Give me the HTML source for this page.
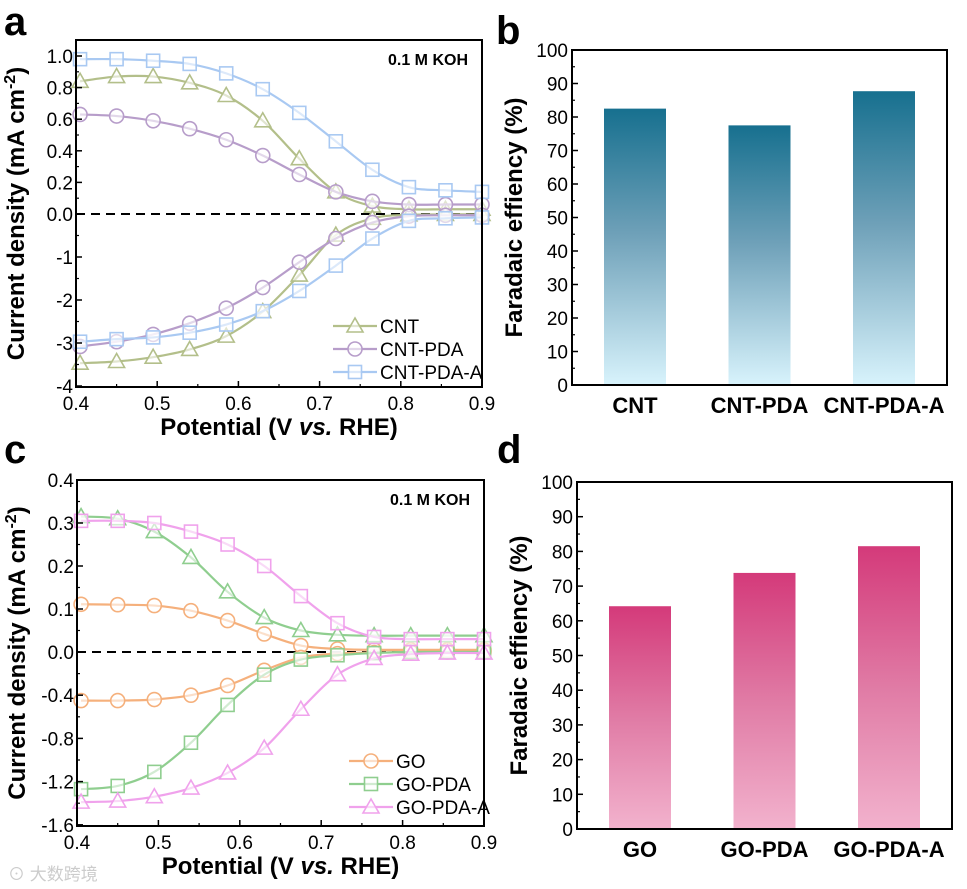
<!DOCTYPE html>
<html><head><meta charset="utf-8">
<style>
html,body{margin:0;padding:0;background:#fff;}
svg{display:block;font-family:"Liberation Sans",Arial,sans-serif;}
</style></head>
<body>
<svg id="fig" width="967" height="889" viewBox="0 0 967 889" xmlns="http://www.w3.org/2000/svg">
<defs>
<linearGradient id="gb" x1="0" y1="0" x2="0" y2="1"><stop offset="0" stop-color="#17708f"/><stop offset="0.45" stop-color="#6ea0b8"/><stop offset="1" stop-color="#d8f3fc"/></linearGradient>
<linearGradient id="gd" x1="0" y1="0" x2="0" y2="1"><stop offset="0" stop-color="#d43a7a"/><stop offset="0.5" stop-color="#e07ba5"/><stop offset="1" stop-color="#f2b2cd"/></linearGradient>
</defs>
<text x="4" y="35" font-size="40" font-weight="bold">a</text>
<text x="496" y="44" font-size="40" font-weight="bold">b</text>
<text x="4" y="463" font-size="40" font-weight="bold">c</text>
<text x="497" y="463" font-size="40" font-weight="bold">d</text>
<g id="pa"></g>
<g id="pb"></g>
<g id="pc"></g>
<g id="pd"></g>
<text x="8" y="880" font-size="17" fill="#ccc" font-family="'Liberation Sans','Noto Sans CJK SC',sans-serif">⊙ 大数跨境</text>
</svg>
<script>
const NS="http://www.w3.org/2000/svg";
// ---- data ----
const xPts=[0.405,0.45,0.495,0.54,0.585,0.63,0.675,0.72,0.765,0.81,0.855,0.9];
const xTicks=[0.4,0.5,0.6,0.7,0.8,0.9];
const aNames=["CNT","CNT-PDA","CNT-PDA-A"];
const aUpCNT=[0.84,0.87,0.87,0.83,0.75,0.59,0.35,0.14,0.05,0.03,0.03,0.03];
const aUpPDA=[0.63,0.62,0.59,0.54,0.47,0.37,0.25,0.14,0.08,0.06,0.06,0.06];
const aUpPDAA=[0.98,0.98,0.97,0.95,0.89,0.79,0.64,0.46,0.28,0.17,0.15,0.14];
const aLoCNT=[-3.47,-3.43,-3.33,-3.15,-2.84,-2.27,-1.42,-0.49,-0.1,-0.02,-0.01,-0.01];
const aLoPDA=[-3.08,-2.97,-2.8,-2.54,-2.19,-1.71,-1.12,-0.57,-0.2,-0.05,-0.03,-0.03];
const aLoPDAA=[-2.97,-2.91,-2.87,-2.76,-2.57,-2.26,-1.79,-1.2,-0.57,-0.16,-0.1,-0.08];
const aYTicks=[1.0,0.8,0.6,0.4,0.2,0.0,-1,-2,-3,-4];
const aYTickLabels=["1.0","0.8","0.6","0.4","0.2","0.0","-1","-2","-3","-4"];
const cNames=["GO","GO-PDA","GO-PDA-A"];
const cUpGO=[0.111,0.11,0.108,0.096,0.073,0.042,0.015,0.007,0.005,0.005,0.005,0.005];
const cUpPDA=[0.315,0.31,0.28,0.22,0.14,0.08,0.05,0.04,0.038,0.038,0.038,0.038];
const cUpPDAA=[0.305,0.305,0.3,0.28,0.25,0.2,0.13,0.067,0.035,0.03,0.03,0.03];
const cLoGO=[-0.45,-0.45,-0.44,-0.4,-0.31,-0.17,-0.05,-0.015,-0.005,0,0,0];
const cLoPDA=[-1.27,-1.24,-1.11,-0.84,-0.49,-0.21,-0.07,-0.03,-0.01,0,0,0];
const cLoPDAA=[-1.39,-1.38,-1.34,-1.26,-1.12,-0.89,-0.53,-0.21,-0.06,-0.02,-0.01,-0.01];
const cYTicks=[0.4,0.3,0.2,0.1,0.0,-0.4,-0.8,-1.2,-1.6];
const cYTickLabels=["0.4","0.3","0.2","0.1","0.0","-0.4","-0.8","-1.2","-1.6"];
const bCats=["CNT","CNT-PDA","CNT-PDA-A"];
const bVals=[82.5,77.5,87.7];
const dCats=["GO","GO-PDA","GO-PDA-A"];
const dVals=[64.2,73.8,81.5];
const feTicks=[0,10,20,30,40,50,60,70,80,90,100];

function el(tag,attrs,parent,text){const e=document.createElementNS(NS,tag);for(const k in attrs)e.setAttribute(k,attrs[k]);if(text!==undefined)e.textContent=text;parent.appendChild(e);return e;}
function smooth(p){let d="M"+p[0][0]+","+p[0][1];for(let i=0;i<p.length-1;i++){const p0=p[i-1]||p[i],p1=p[i],p2=p[i+1],p3=p[i+2]||p2;const c1=[p1[0]+(p2[0]-p0[0])/6,p1[1]+(p2[1]-p0[1])/6],c2=[p2[0]-(p3[0]-p1[0])/6,p2[1]-(p3[1]-p1[1])/6];d+=" C"+c1+" "+c2+" "+p2;}return d;}
function marker(g,shape,x,y,color){let m;
 if(shape==="tri")m=el("polygon",{points:`${x},${y-8} ${x-8},${y+6} ${x+8},${y+6}`,fill:"#fff","fill-opacity":"0.6",stroke:color,"stroke-width":1.6},g);
 else if(shape==="circ")m=el("circle",{cx:x,cy:y,r:7,fill:"#fff","fill-opacity":"0.6",stroke:color,"stroke-width":1.6},g);
 else m=el("rect",{x:x-6.5,y:y-6.5,width:13,height:13,fill:"#fff","fill-opacity":"0.6",stroke:color,"stroke-width":1.6},g);
 return m;}

function lineChart(g,cfg){
 const X=v=>cfg.x0+(v-0.4)/0.5*(cfg.x1-cfg.x0);
 const Y=cfg.Y;
 const z=el("line",{x1:cfg.x0,x2:cfg.x1,y1:Y(0),y2:Y(0),stroke:"#000","stroke-width":2,"stroke-dasharray":"9,6"},g);
 
 
 cfg.series.forEach((s,si)=>{
  const sg=el("g",{},g);
  
  
  [[s.up,s.shUp],[s.lo,s.shLo]].forEach(([arr,sh])=>{
   const pts=arr.map((v,i)=>[X(xPts[i]),Y(v)]);
   el("path",{d:smooth(pts),fill:"none",stroke:s.color,"stroke-width":2.2},sg);
   pts.forEach(p=>{const m=marker(sg,sh,p[0],p[1],s.color);
    
    });
  });
  const ly=cfg.legY+si*23, lx=cfg.legX;
  const lg=el("g",{},g);
  
  
  el("line",{x1:lx,x2:lx+44,y1:ly,y2:ly,stroke:s.color,"stroke-width":2.2},lg);
  marker(lg,s.shLo,lx+22,ly,s.color);
  el("text",{x:lx+47,y:ly+7,"font-size":19},lg,s.name);
 });
 const f=el("rect",{x:cfg.x0,y:cfg.y0,width:cfg.x1-cfg.x0,height:cfg.y1-cfg.y0,fill:"none",stroke:"#000","stroke-width":2},g);
 
 
 xTicks.forEach((t,i)=>{const x=X(t);el("line",{x1:x,x2:x,y1:cfg.y1,y2:cfg.y1-6,stroke:"#000","stroke-width":1.5},g);
  if(i<xTicks.length-1)el("line",{x1:X(t+0.05),x2:X(t+0.05),y1:cfg.y1,y2:cfg.y1-3,stroke:"#000","stroke-width":1.2},g);
  const tl=el("text",{x:x,y:cfg.y1+23,"font-size":19,"text-anchor":"middle"},g,t.toFixed(1));
  
  });
 cfg.yt.forEach((t,i)=>{const y=Y(t);el("line",{x1:cfg.x0,x2:cfg.x0+6,y1:y,y2:y,stroke:"#000","stroke-width":1.5},g);
  if(i<cfg.yt.length-1){const ym=(y+Y(cfg.yt[i+1]))/2;el("line",{x1:cfg.x0,x2:cfg.x0+3,y1:ym,y2:ym,stroke:"#000","stroke-width":1.2},g);}
  const tl=el("text",{x:cfg.x0-3,y:y+7,"font-size":19,"text-anchor":"end"},g,cfg.ytl[i]);
  
  });
 const xt=el("text",{x:(cfg.x0+cfg.x1)/2,y:cfg.y1+48,"font-size":24,"font-weight":"bold","text-anchor":"middle"},g);
 xt.innerHTML='Potential (V <tspan font-style="italic">vs.</tspan> RHE)';
 
 
 const yt=el("text",{x:0,y:0,"font-size":24,"font-weight":"bold","text-anchor":"middle",transform:`translate(${cfg.x0-52},${(cfg.y0+cfg.y1)/2}) rotate(-90)`},g);
 yt.innerHTML='Current density (mA cm<tspan dy="-9" font-size="16">-2</tspan><tspan dy="9">)</tspan>';
 
 
 const an=el("text",{x:cfg.x1-14,y:cfg.y0+25,"font-size":16,"font-weight":"bold","text-anchor":"end"},g,"0.1 M KOH");
 
 
}

lineChart(document.getElementById("pa"),{x0:76,x1:482,y0:40,y1:387,
 Y:v=>v>=0?214-v*158:214-v*43,yt:aYTicks,ytl:aYTickLabels,legX:333,legY:326,
 series:[{name:aNames[0],up:aUpCNT,lo:aLoCNT,color:"#b3bf8a",shUp:"tri",shLo:"tri"},
         {name:aNames[1],up:aUpPDA,lo:aLoPDA,color:"#b79dca",shUp:"circ",shLo:"circ"},
         {name:aNames[2],up:aUpPDAA,lo:aLoPDAA,color:"#a9c9f2",shUp:"sq",shLo:"sq"}]});
lineChart(document.getElementById("pc"),{x0:77,x1:484,y0:480,y1:826,
 Y:v=>v>=0?652-v*430:652-v*108,yt:cYTicks,ytl:cYTickLabels,legX:349,legY:761,
 series:[{name:cNames[0],up:cUpGO,lo:cLoGO,color:"#f5b07c",shUp:"circ",shLo:"circ"},
         {name:cNames[1],up:cUpPDA,lo:cLoPDA,color:"#8fce8f",shUp:"tri",shLo:"sq"},
         {name:cNames[2],up:cUpPDAA,lo:cLoPDAA,color:"#f0a2ec",shUp:"sq",shLo:"tri"}]});
function barChart(g,cfg){
 const Y=v=>cfg.y1-v/100*(cfg.y1-cfg.y0);
 cfg.vals.forEach((v,i)=>{const x=cfg.bx[0]+i*cfg.step;
  const r=el("rect",{x:x,y:Y(v),width:62,height:cfg.y1-Y(v),fill:cfg.fill},g);
  
  
  const t=el("text",{x:x+31,y:cfg.y1+28,"font-size":22,"font-weight":"bold","text-anchor":"middle"},g,cfg.cats[i]);
  
  });
 const f=el("rect",{x:cfg.x0,y:cfg.y0,width:cfg.x1-cfg.x0,height:cfg.y1-cfg.y0,fill:"none",stroke:"#000","stroke-width":2},g);
 
 
 feTicks.forEach((t,i)=>{const y=Y(t);el("line",{x1:cfg.x0,x2:cfg.x0+6,y1:y,y2:y,stroke:"#000","stroke-width":1.5},g);
  if(i<feTicks.length-1)el("line",{x1:cfg.x0,x2:cfg.x0+3,y1:Y(t+5),y2:Y(t+5),stroke:"#000","stroke-width":1.2},g);
  const tl=el("text",{x:cfg.x0-4,y:y+7,"font-size":19,"text-anchor":"end"},g,String(t));
  
  });
 const yt=el("text",{x:0,y:0,"font-size":24,"font-weight":"bold","text-anchor":"middle",transform:`translate(${cfg.x0-50},${(cfg.y0+cfg.y1)/2}) rotate(-90)`},g,"Faradaic effiency (%)");
 
 
}
barChart(document.getElementById("pb"),{x0:572,x1:947,y0:50,y1:385,bx:[604],step:124.5,vals:bVals,cats:bCats,fill:"url(#gb)"});
barChart(document.getElementById("pd"),{x0:577,x1:952,y0:482,y1:829,bx:[609],step:124.5,vals:dVals,cats:dCats,fill:"url(#gd)"});
</script>
</body></html>
